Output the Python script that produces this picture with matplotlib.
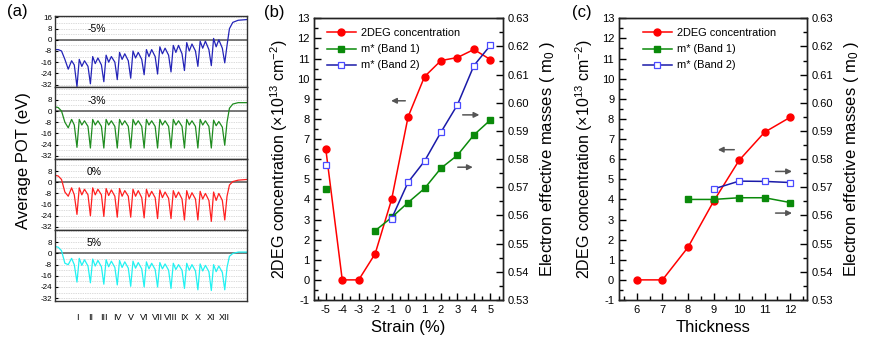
import numpy as np
import matplotlib
matplotlib.use('Agg')
import matplotlib.pyplot as plt
from matplotlib.ticker import MultipleLocator, FormatStrFormatter

plt.rcParams['font.family'] = ['Liberation Sans', 'DejaVu Sans']
plt.rcParams['mathtext.fontset'] = 'custom'
plt.rcParams['mathtext.rm'] = 'Liberation Sans'
plt.rcParams['mathtext.it'] = 'Liberation Sans:italic'
plt.rcParams['axes.unicode_minus'] = False

# ---------------- panel (a): averaged potential profiles ----------------
wells = ['I', 'II', 'III', 'IV', 'V', 'VI', 'VII', 'VIII', 'IX', 'X', 'XI', 'XII']
strain_tags = ['-5%', '-3%', '0%', '5%']
pot_colors = ['#2424b8', '#1f8c1f', '#ff2020', '#22f2f2']

# values (eV), one row per strain
lead = [[-7, -7, -8, -14, -21, -15, -18],
        [3, 2.5, 0, -8, -12, -6, -10],
        [5, 4.5, 2, -7, -10, -4, -9],
        [5, 4.5, 2, -7, -8, -3.5, -8]]
deep = [[-33.5, -31.5, -30, -28.5, -27.5, -25, -24.5, -23, -22, -19, -18.5, -16.5],
        [-26, -26.5, -26.5, -26.5, -26.5, -26.5, -26.5, -26.5, -26.5, -26.5, -26.5, -24.5],
        [-23, -24, -24.5, -25, -25, -25.5, -26, -26, -27, -27, -28, -27],
        [-20.5, -21, -22, -22.5, -23.5, -24, -24, -25, -25, -26, -26.5, -26]]
peak1 = [[-14, -12, -11, -9, -8, -7, -5, -4, -2, -1, 1],
         [-6, -6, -6, -6, -6, -6, -6, -6, -6, -6, -6.5],
         [-4, -4, -4.5, -4.5, -5, -5, -5.5, -6, -6, -6.5, -7],
         [-3.5, -4, -4.5, -5, -5.5, -6, -6.5, -7, -7, -7.5, -8]]
mid = [[-19, -17, -16, -14, -13, -12, -10, -9, -8, -6, -5],
       [-10, -10, -10, -10, -10, -10, -10, -10, -10, -10, -10.5],
       [-9, -9, -9.5, -10, -10, -10.5, -11, -11, -12, -12, -13],
       [-8.5, -9, -9.5, -10, -10.5, -11, -11, -11.5, -12, -12.5, -13]]
peak2 = [[-15, -13, -12, -10, -9, -7, -6, -4, -3, -1, 0],
         [-7, -7, -7, -7, -7, -7, -7, -7, -7, -7, -7.5],
         [-5, -5, -5.5, -6, -6, -6.5, -7, -7, -7.5, -8, -8],
         [-4.5, -5, -5.5, -6, -6.5, -7, -7.5, -8, -8, -8.5, -9]]
shoulder = [[-19, -18, -16, -15, -14, -12, -11, -10, -8, -7, -6],
            [-11, -11, -11, -11, -11, -11, -11, -11, -11, -11, -11.5],
            [-9, -9, -10, -10, -11, -11, -11.5, -12, -12, -13, -13],
            [-9, -9.5, -10, -10.5, -11, -11.5, -12, -12, -12.5, -13, -13.5]]
tail = [[-4, 8, 12.5, 14, 14.5],
        [-8, 2, 5, 6, 6],
        [-10, -2, 0.5, 1.5, 2],
        [-10, -2, 0, 1, 1]]

lead_x = [-0.64, -0.4, -0.15, 0.1, 0.35, 0.6, 0.8]
tail_x = [12.17, 12.35, 12.6, 13.0, 13.64]


def profile(i):
    xs = list(lead_x)
    ys = list(lead[i])
    for k in range(11):
        w = k + 1
        xs += [w, w + 0.17, w + 0.36, w + 0.56, w + 0.82]
        ys += [deep[i][k], peak1[i][k], mid[i][k], peak2[i][k], shoulder[i][k]]
    xs.append(12)
    ys.append(deep[i][11])
    xs += tail_x
    ys += tail[i]
    return xs, ys


# ---------------- panels (b) and (c) ----------------
strain = [-5, -4, -3, -2, -1, 0, 1, 2, 3, 4, 5]
n2deg_strain = [6.5, 0, 0, 1.3, 4.0, 8.1, 10.1, 10.9, 11.05, 11.45, 10.95]
m1_strain = [0.5693, np.nan, np.nan, 0.5546, 0.5593, 0.5646, 0.5696, 0.5768, 0.5814, 0.5886, 0.5939]
m2_strain = [0.5779, np.nan, np.nan, np.nan, 0.5589, 0.5718, 0.5793, 0.5896, 0.5993, 0.6132, 0.6204]

thick = [6, 7, 8, 9, 10, 11, 12]
n2deg_thick = [0, 0, 1.62, 3.9, 5.94, 7.34, 8.08]
m1_thick = [np.nan, np.nan, 0.5657, 0.5657, 0.5663, 0.5663, 0.5646]
m2_thick = [np.nan, np.nan, np.nan, 0.5694, 0.5722, 0.5721, 0.5717]

red = '#ff0000'
green = '#0a8a0a'
blue = '#1a1aa8'
arrow_col = '#555555'

fig = plt.figure(figsize=(8.72, 3.42), dpi=100)

# panel (a)
gs = fig.add_gridspec(4, 1, left=0.063, right=0.283, bottom=0.12, top=0.953, hspace=0)
for i in range(4):
    ax = fig.add_subplot(gs[i])
    xs, ys = profile(i)
    ax.plot(xs, ys, color=pot_colors[i], lw=0.9)
    ax.axhline(0, color='#555555', lw=1.1, zorder=1)
    for g in range(-32, 17, 4):
        ax.axhline(g, color='#b8b8b8', lw=0.5, ls=(0, (1, 1.5)), zorder=0)
    ax.set_xlim(-0.64, 13.64)
    ax.set_ylim(-34, 17)
    if i == 0:
        ax.set_yticks([16, 8, 0, -8, -16, -24, -32])
    else:
        ax.set_yticks([8, 0, -8, -16, -24, -32])
    ax.tick_params(axis='y', direction='in', length=2.5, labelsize=5.8, pad=2)
    ax.text(1.75, 7.5, strain_tags[i], fontsize=7.5, va='center')
    if i == 3:
        ax.set_xticks(range(1, 13))
        ax.set_xticklabels(wells, fontsize=6.5)
        ax.tick_params(axis='x', length=0, pad=9)
    else:
        ax.set_xticks([])
    for s in ax.spines.values():
        s.set_color('#333333')
        s.set_linewidth(1.0)

fig.text(0.027, 0.53, 'Average POT (eV)', rotation=90, fontsize=12, ha='center', va='center')
fig.text(0.008, 0.965, '(a)', fontsize=12, ha='left', va='center')


def style_pair(ax, ax2):
    ax.set_ylim(-1, 13)
    ax.yaxis.set_major_locator(MultipleLocator(1))
    ax.yaxis.set_minor_locator(MultipleLocator(0.5))
    ax.xaxis.set_major_locator(MultipleLocator(1))
    ax.xaxis.set_minor_locator(MultipleLocator(0.5))
    ax.tick_params(which='both', direction='in', top=False, right=False, labelsize=8)
    ax.tick_params(which='major', length=5, width=1)
    ax.tick_params(which='minor', length=3, width=1)
    ax2.set_ylim(0.53, 0.63)
    ax2.yaxis.set_major_locator(MultipleLocator(0.01))
    ax2.yaxis.set_minor_locator(MultipleLocator(0.005))
    ax2.yaxis.set_major_formatter(FormatStrFormatter('%.2f'))
    ax2.tick_params(which='both', direction='in', labelsize=8)
    ax2.tick_params(which='major', length=5, width=1)
    ax2.tick_params(which='minor', length=3, width=1)
    for a in (ax, ax2):
        for s in a.spines.values():
            s.set_linewidth(1.0)
            s.set_color('#222222')
    ax.set_ylabel('2DEG concentration ($\\times$10$^{13}$ cm$^{-2}$)', fontsize=11.5, labelpad=5)
    ax2.set_ylabel('Electron effective masses ( m$_0$ )', fontsize=12, labelpad=6)


def draw_series(ax, ax2, x, n, m1, m2):
    l1, = ax.plot(x, n, color=red, marker='o', ms=5, lw=1.1, label='2DEG concentration')
    l2, = ax2.plot(x, m1, color=green, marker='s', ms=4.5, lw=1.1, label='m* (Band 1)')
    l3, = ax2.plot(x, m2, color=blue, marker='s', ms=4.5, lw=1.1, mfc='white',
                   mec='#4a4aff', mew=0.9, label='m* (Band 2)')
    return [l1, l2, l3]


def arrow(ax, tail_xy, head_xy):
    ax.annotate('', xy=head_xy, xytext=tail_xy,
                arrowprops=dict(arrowstyle='-|>', color=arrow_col, lw=1.1, mutation_scale=8))


def add_legend(ax2, handles, x0):
    ax2.legend(handles, [h.get_label() for h in handles], loc='upper left',
               bbox_to_anchor=(x0, 0.98), frameon=False, fontsize=7.9,
               handlelength=2.6, handletextpad=0.5, labelspacing=0.55, borderaxespad=0)


# panel (b)
axb = fig.add_axes([0.3604, 0.1228, 0.2161, 0.8237])
axb2 = axb.twinx()
hb = draw_series(axb, axb2, strain, n2deg_strain, m1_strain, m2_strain)
axb.set_xlim(-5.7, 5.75)
style_pair(axb, axb2)
axb.set_xlabel('Strain (%)', fontsize=12)
add_legend(axb2, hb, 0.045)
arrow(axb, (0.0, 8.9), (-1.2, 8.9))
arrow(axb, (3.15, 8.2), (4.5, 8.2))
arrow(axb, (2.85, 5.6), (4.1, 5.6))
fig.text(0.303, 0.962, '(b)', fontsize=12, ha='left', va='center')

# panel (c)
axc = fig.add_axes([0.7099, 0.1228, 0.2153, 0.8237])
axc2 = axc.twinx()
hc = draw_series(axc, axc2, thick, n2deg_thick, m1_thick, m2_thick)
axc.set_xlim(5.3, 12.65)
style_pair(axc, axc2)
axc.set_xlabel('Thickness', fontsize=12)
add_legend(axc2, hc, 0.105)
arrow(axc, (9.92, 6.47), (9.06, 6.47))
arrow(axc, (11.32, 5.39), (12.18, 5.39))
arrow(axc, (11.32, 3.32), (12.18, 3.32))
fig.text(0.656, 0.962, '(c)', fontsize=12, ha='left', va='center')

fig.savefig('out.png', dpi=100)
